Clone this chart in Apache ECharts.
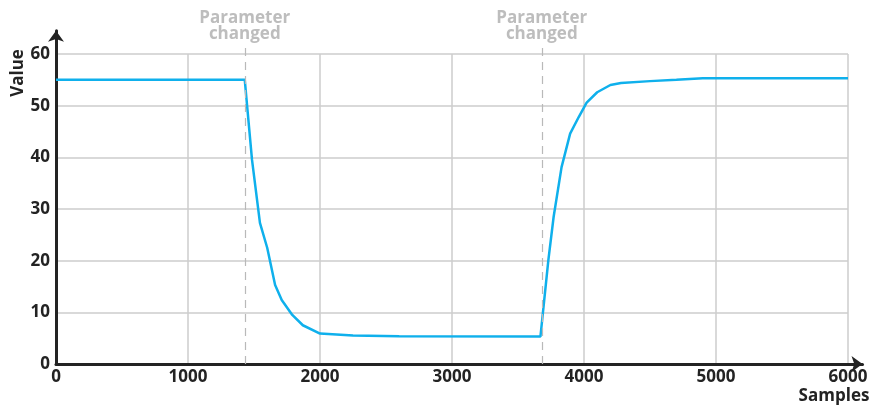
<!DOCTYPE html>
<html>
<head>
<meta charset="utf-8">
<script src="https://cdn.jsdelivr.net/npm/echarts@6/dist/echarts.min.js"></script>
<style>
  html, body { margin: 0; padding: 0; background: #fff; }
  #chart { width: 875px; height: 405px; }
</style>
</head>
<body>
<div id="chart"></div>
<script>
// Step response: value vs. sample index
const samples = [0, 1430, 1485, 1545, 1600, 1660, 1710, 1790, 1870, 2000, 2250, 2600, 3670,
                 3730, 3770, 3830, 3895, 3960, 4020, 4100, 4200, 4280, 4500, 4700, 4900, 6000];
const values  = [55, 55, 39.5, 27.3, 22.5, 15.3, 12.4, 9.5, 7.5, 5.9, 5.5, 5.35, 5.3,
                 20.1, 28.5, 38.1, 44.6, 47.8, 50.6, 52.6, 54.0, 54.4, 54.75, 55.0, 55.3, 55.3];
const changePoints = [1430, 3680];
const changeLabel = 'Parameter\nchanged';
const xTicks = { min: 0, max: 6000, interval: 1000 };
const yTicks = { min: 0, max: 60, interval: 10 };
const xName = 'Samples';
const yName = 'Value';

const FONT = '"Open Sans", "DejaVu Sans", sans-serif';
const INK = '#232323';
const GRID_GRAY = '#cdcdcd';
const LINE_BLUE = '#0fb0ec';

// plot area and the slightly larger frame that carries the arrowed axes
const plot = { left: 56, right: 27, top: 54, bottom: 41 };
const pxPerX = (875 - plot.left - plot.right) / (xTicks.max - xTicks.min);
const pxPerY = (405 - plot.top - plot.bottom) / (yTicks.max - yTicks.min);
const axisXMax = 6110, axisYMax = 64.5;
const frame = {
  left: plot.left,
  right: 875 - plot.left - (axisXMax - xTicks.min) * pxPerX,
  top: 405 - plot.bottom - (axisYMax - yTicks.min) * pxPerY,
  bottom: plot.bottom
};

const chart = echarts.init(document.getElementById('chart'), null, { renderer: 'canvas' });

chart.setOption({
  animation: false,
  backgroundColor: '#ffffff',
  grid: [
    Object.assign({ containLabel: false }, plot),
    Object.assign({ containLabel: false }, frame)
  ],
  xAxis: [
    {
      gridIndex: 0, type: 'value',
      min: xTicks.min, max: xTicks.max, interval: xTicks.interval,
      axisLine: { show: false }, axisTick: { show: false },
      axisLabel: { color: INK, fontFamily: FONT, fontWeight: 'bold', fontSize: 17, margin: 5,
                   formatter: v => String(v) },
      splitLine: { show: true, lineStyle: { color: GRID_GRAY, width: 1.5 } }
    },
    {
      gridIndex: 1, type: 'value', min: xTicks.min, max: axisXMax,
      axisLine: { show: true, symbol: ['none', 'arrow'], symbolSize: [12, 11],
                  lineStyle: { color: INK, width: 3 } },
      axisTick: { show: false }, axisLabel: { show: false }, splitLine: { show: false }
    }
  ],
  yAxis: [
    {
      gridIndex: 0, type: 'value',
      min: yTicks.min, max: yTicks.max, interval: yTicks.interval,
      axisLine: { show: false }, axisTick: { show: false },
      axisLabel: { color: INK, fontFamily: FONT, fontWeight: 'bold', fontSize: 17, margin: 6 },
      splitLine: { show: true, lineStyle: { color: GRID_GRAY, width: 1.5 } }
    },
    {
      gridIndex: 1, type: 'value', min: yTicks.min, max: axisYMax,
      axisLine: { show: true, symbol: ['none', 'arrow'], symbolSize: [12, 11],
                  lineStyle: { color: INK, width: 3 } },
      axisTick: { show: false }, axisLabel: { show: false }, splitLine: { show: false }
    }
  ],
  series: [
    {
      type: 'line',
      xAxisIndex: 0, yAxisIndex: 0,
      data: samples.map((s, i) => [s, values[i]]),
      showSymbol: false,
      lineStyle: { color: LINE_BLUE, width: 2.5 },
      z: 3
    },
    {
      // parameter-change markers, drawn on the outer frame so they can rise above the plot
      type: 'line',
      xAxisIndex: 1, yAxisIndex: 1,
      data: [],
      markLine: {
        silent: true,
        symbol: ['none', 'none'],
        lineStyle: { color: '#b9b9b9', type: [8, 6], width: 1.2 },
        label: {
          show: true, position: 'end', distance: 0,
          formatter: changeLabel,
          color: '#bdbdbd', fontFamily: FONT, fontWeight: 'bold', fontSize: 17, lineHeight: 16
        },
        data: changePoints.map(x => [
          { coord: [x, 0] },
          { coord: [x, 62.3] }
        ])
      },
      z: 2
    }
  ],
  graphic: [
    {
      type: 'text', x: 18, y: 73, rotation: Math.PI / 2,
      style: { text: yName, font: 'bold 17px ' + FONT, fill: INK, align: 'center', verticalAlign: 'middle' }
    },
    {
      type: 'text', x: 834, y: 396,
      style: { text: xName, font: 'bold 17px ' + FONT, fill: INK, align: 'center', verticalAlign: 'middle' }
    }
  ]
});
</script>
</body>
</html>
